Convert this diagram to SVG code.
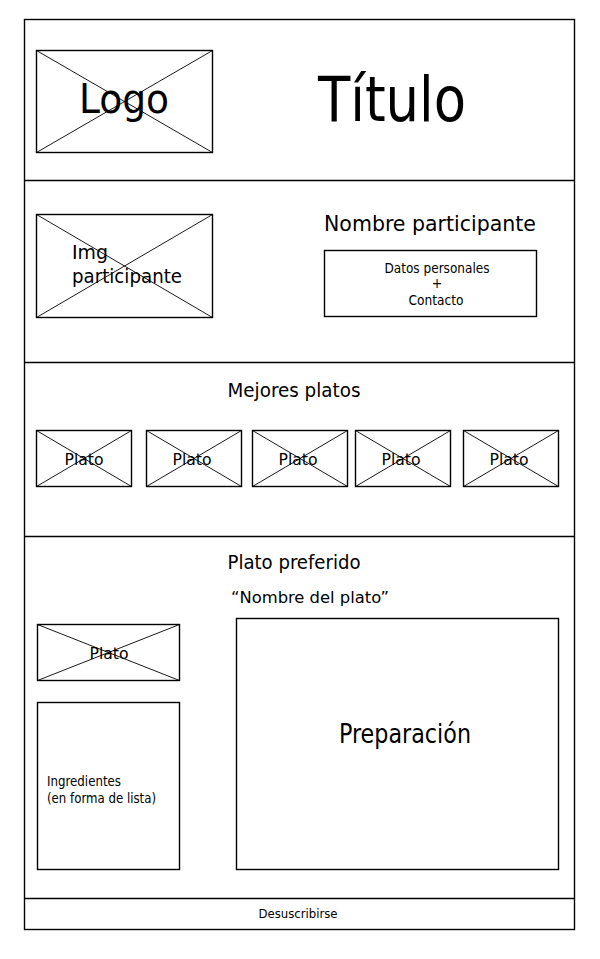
<svg xmlns="http://www.w3.org/2000/svg" width="600" height="959" viewBox="0 0 600 959">
<style>
.box{fill:none;stroke:#000;stroke-width:1.4}
.x{stroke:#000;stroke-width:0.9}
text{font-family:"DejaVu Sans Condensed","Liberation Sans",sans-serif;fill:#000}
.c{text-anchor:middle}
</style>
<rect width="600" height="959" fill="#fff"/>
<g id="frame">
<rect class="box" x="24.5" y="19.5" width="550" height="910"/>
<line class="box" x1="24" y1="180.5" x2="575" y2="180.5"/>
<line class="box" x1="24" y1="362.5" x2="575" y2="362.5"/>
<line class="box" x1="24" y1="536.5" x2="575" y2="536.5"/>
<line class="box" x1="24" y1="898.5" x2="575" y2="898.5"/>
</g>
<g id="logo">
<rect class="box" x="36.5" y="50.5" width="176" height="102"/>
<line class="x" x1="36.5" y1="50.5" x2="212.5" y2="152.5"/>
<line class="x" x1="212.5" y1="50.5" x2="36.5" y2="152.5"/>
<text x="124" y="113" class="c" font-size="41" textLength="90" lengthAdjust="spacingAndGlyphs">Logo</text>
</g>
<g id="titulo">
<text x="392" y="121" class="c" font-size="63" textLength="148" lengthAdjust="spacingAndGlyphs">Título</text>
</g>
<g id="img-participante">
<rect class="box" x="36.5" y="214.5" width="176" height="103"/>
<line class="x" x1="36.5" y1="214.5" x2="212.5" y2="317.5"/>
<line class="x" x1="212.5" y1="214.5" x2="36.5" y2="317.5"/>
<text x="72" y="259" font-size="20" textLength="36" lengthAdjust="spacingAndGlyphs">Img</text>
<text x="72" y="283" font-size="20" textLength="110" lengthAdjust="spacingAndGlyphs">participante</text>
</g>
<g id="nombre-participante">
<text x="430" y="231" class="c" font-size="22" textLength="212" lengthAdjust="spacingAndGlyphs">Nombre participante</text>
</g>
<g id="datos">
<rect class="box" x="324.5" y="250.5" width="212" height="66"/>
<text x="437" y="273" class="c" font-size="14" textLength="105" lengthAdjust="spacingAndGlyphs">Datos personales</text>
<text x="437" y="288" class="c" font-size="14">+</text>
<text x="436" y="305" class="c" font-size="14" textLength="55" lengthAdjust="spacingAndGlyphs">Contacto</text>
</g>
<g id="mejores-platos">
<text x="294" y="397" class="c" font-size="20" textLength="133" lengthAdjust="spacingAndGlyphs">Mejores platos</text>
</g>
<g id="plato1">
<rect class="box" x="36.5" y="430.5" width="95" height="56"/>
<line class="x" x1="36.5" y1="430.5" x2="131.5" y2="486.5"/>
<line class="x" x1="131.5" y1="430.5" x2="36.5" y2="486.5"/>
<text x="84" y="465" class="c" font-size="16" textLength="39" lengthAdjust="spacingAndGlyphs">Plato</text>
</g>
<g id="plato2">
<rect class="box" x="146.5" y="430.5" width="95" height="56"/>
<line class="x" x1="146.5" y1="430.5" x2="241.5" y2="486.5"/>
<line class="x" x1="241.5" y1="430.5" x2="146.5" y2="486.5"/>
<text x="192" y="465" class="c" font-size="16" textLength="39" lengthAdjust="spacingAndGlyphs">Plato</text>
</g>
<g id="plato3">
<rect class="box" x="252.5" y="430.5" width="95" height="56"/>
<line class="x" x1="252.5" y1="430.5" x2="347.5" y2="486.5"/>
<line class="x" x1="347.5" y1="430.5" x2="252.5" y2="486.5"/>
<text x="298" y="465" class="c" font-size="16" textLength="39" lengthAdjust="spacingAndGlyphs">Plato</text>
</g>
<g id="plato4">
<rect class="box" x="355.5" y="430.5" width="95" height="56"/>
<line class="x" x1="355.5" y1="430.5" x2="450.5" y2="486.5"/>
<line class="x" x1="450.5" y1="430.5" x2="355.5" y2="486.5"/>
<text x="401" y="465" class="c" font-size="16" textLength="39" lengthAdjust="spacingAndGlyphs">Plato</text>
</g>
<g id="plato5">
<rect class="box" x="463.5" y="430.5" width="95" height="56"/>
<line class="x" x1="463.5" y1="430.5" x2="558.5" y2="486.5"/>
<line class="x" x1="558.5" y1="430.5" x2="463.5" y2="486.5"/>
<text x="509" y="465" class="c" font-size="16" textLength="39" lengthAdjust="spacingAndGlyphs">Plato</text>
</g>
<g id="plato-preferido">
<text x="294" y="569" class="c" font-size="20" textLength="133" lengthAdjust="spacingAndGlyphs">Plato preferido</text>
<text x="310" y="603" class="c" font-size="16" textLength="158" lengthAdjust="spacingAndGlyphs">“Nombre del plato”</text>
</g>
<g id="plato-fav">
<rect class="box" x="37.5" y="624.5" width="142" height="56"/>
<line class="x" x1="37.5" y1="624.5" x2="179.5" y2="680.5"/>
<line class="x" x1="179.5" y1="624.5" x2="37.5" y2="680.5"/>
<text x="109" y="659" class="c" font-size="16" textLength="39" lengthAdjust="spacingAndGlyphs">Plato</text>
</g>
<g id="ingredientes">
<rect class="box" x="37.5" y="702.5" width="142" height="167"/>
<text x="47" y="786" font-size="14" textLength="74" lengthAdjust="spacingAndGlyphs">Ingredientes</text>
<text x="47" y="803" font-size="14" textLength="109" lengthAdjust="spacingAndGlyphs">(en forma de lista)</text>
</g>
<g id="preparacion">
<rect class="box" x="236.5" y="618.5" width="322" height="251"/>
<text x="405" y="743" class="c" font-size="26" textLength="132" lengthAdjust="spacingAndGlyphs">Preparación</text>
</g>
<g id="desuscribirse">
<text x="298" y="918" class="c" font-size="13" textLength="79" lengthAdjust="spacingAndGlyphs">Desuscribirse</text>
</g>
<g id="connectors"/>
</svg>
